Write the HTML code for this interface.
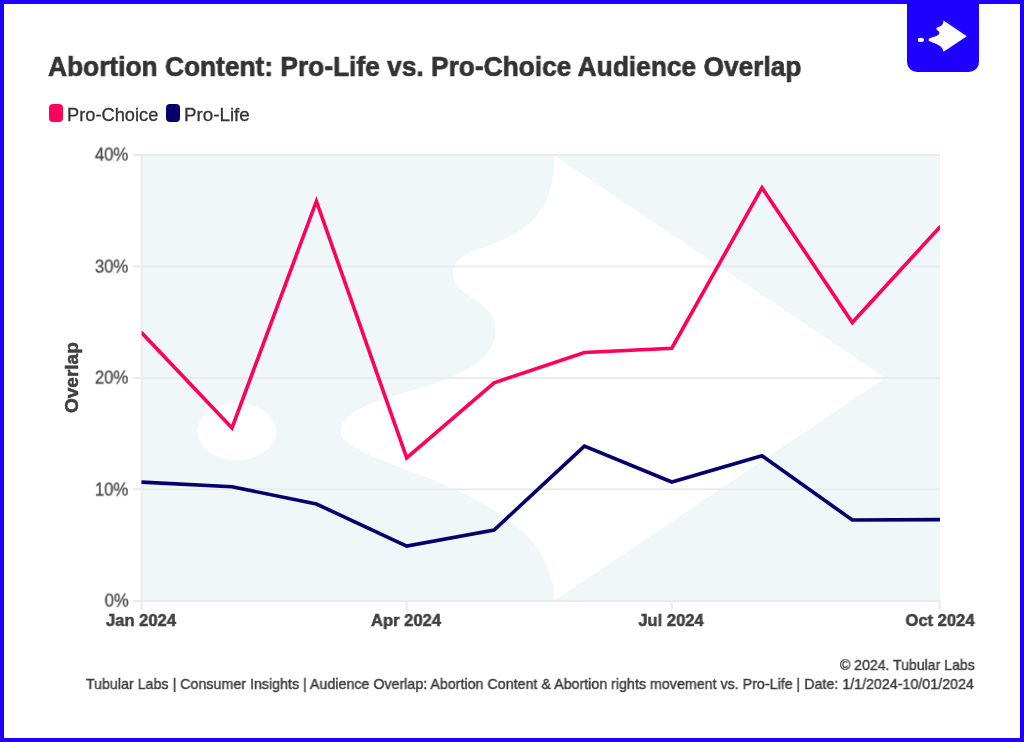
<!DOCTYPE html>
<html><head><meta charset="utf-8">
<style>
html,body{margin:0;padding:0;}
body{width:1024px;height:742px;position:relative;overflow:hidden;background:#fff;font-family:"Liberation Sans",sans-serif;}
#frame{position:absolute;left:0;top:0;width:1016px;height:734px;border:4px solid #1e00ff;}
.t{position:absolute;white-space:nowrap;line-height:1;transform-origin:0 0;will-change:transform;}
#title{font-size:28px;font-weight:bold;color:#333;-webkit-text-stroke:0.7px #333;}
.leg{position:absolute;width:14.2px;height:18px;border-radius:4px;}
.legt{font-size:18.1px;color:#333;-webkit-text-stroke:0.3px #333;}
.yl{font-size:17.2px;color:#484848;-webkit-text-stroke:0.3px #484848;}
.r{text-align:right;transform-origin:100% 50%;transform:scale(0.975,1.04);}
.c{transform-origin:50% 0;transform:translateX(-50%) scaleX(0.958);}
.rr{transform-origin:100% 0;transform:scaleX(0.9);}
.xl{font-size:17.3px;font-weight:bold;color:#404040;-webkit-text-stroke:0.55px #404040;}
.ft{font-size:14.6px;color:#3a3a3a;-webkit-text-stroke:0.4px #3a3a3a;}
#logo{position:absolute;left:907px;top:0;width:72px;height:72px;background:#1e00ff;border-radius:0 0 10px 10px;}
</style></head>
<body>
<div id="frame"></div>
<div id="logo">
<svg width="72" height="72" viewBox="907 0 72 72" style="position:absolute;left:0;top:0">
<g fill="#fff" transform="translate(966.8 36.2) scale(0.0703) translate(-885.5 -378)">
<use href="#wm"/>
</g>
<ellipse fill="#fff" cx="920.9" cy="39.9" rx="3" ry="2.1"/>
</svg>
</div>

<svg width="1024" height="742" style="position:absolute;left:0;top:0">
<defs>
<clipPath id="pc"><rect x="141.5" y="154" width="798.5" height="447"/></clipPath>
<path id="wm" d="M554.5 155.5 L885.5 378 L554.5 600.5 C554.5 485.5 340.8 467.2 340.8 431.7 C340.8 388.1 495.5 394.2 495.5 330.6 C495.5 296 452.9 300.4 452.9 272.5 C452.9 234.7 554.5 261 554.5 155.5 Z"/>
</defs>
<rect x="142" y="155" width="798" height="446" fill="#f0f7f9"/>
<g clip-path="url(#pc)" fill="#fff">
<use href="#wm"/>
<ellipse cx="236.7" cy="431.6" rx="39.4" ry="28.5"/>
</g>
<!-- grid -->
<g stroke="#ebebeb" stroke-width="2">
<line x1="133" y1="155" x2="940" y2="155"/>
<line x1="133" y1="266.5" x2="940" y2="266.5"/>
<line x1="133" y1="378" x2="940" y2="378"/>
<line x1="133" y1="489.3" x2="940" y2="489.3"/>
<line x1="133" y1="601" x2="940" y2="601"/>
<line x1="141.7" y1="155" x2="141.7" y2="610"/>
<line x1="406.7" y1="601" x2="406.7" y2="610"/>
<line x1="671.8" y1="601" x2="671.8" y2="610"/>
<line x1="939.7" y1="601" x2="939.7" y2="610"/>
</g>
<g clip-path="url(#pc)" fill="none" stroke-width="3.6" stroke-linejoin="miter" stroke-linecap="round" stroke-miterlimit="10">
<polyline stroke="#ff005c" points="141.7,332.8 232.0,428 316.4,201.2 406.7,457.8 494.1,382.8 584.4,352.5 671.8,348.2 762.0,187.7 852.3,322.5 939.7,227.2"/>
<polyline stroke="#05006b" points="141.7,482.1 232.0,486.8 316.4,504 406.7,546.1 494.1,530 584.4,446.2 671.8,482 762.0,455.8 852.3,520 939.7,519.6"/>
</g>
</svg>

<div id="title" class="t" style="left:48.2px;top:52.7px;transform:scaleX(0.9398)">Abortion Content: Pro-Life vs. Pro-Choice Audience Overlap</div>
<div class="leg" style="left:48.9px;top:104.4px;background:#ff005c"></div>
<div id="lt1" class="t legt" style="left:66.77px;top:105.65px;transform:scaleX(1.0094)">Pro-Choice</div>
<div class="leg" style="left:166.2px;top:104.4px;background:#05006b"></div>
<div id="lt2" class="t legt" style="left:184.4px;top:105.5px;transform:scaleX(1.038)">Pro-Life</div>

<div id="y40" class="t yl r" style="right:895.6px;top:146.2px">40%</div>
<div id="y30" class="t yl r" style="right:895.6px;top:257.7px">30%</div>
<div id="y20" class="t yl r" style="right:895.6px;top:369.2px">20%</div>
<div id="y10" class="t yl r" style="right:895.6px;top:480.5px">10%</div>
<div id="y0" class="t yl r" style="right:895.6px;top:592.2px">0%</div>

<div id="ovl" class="t" style="left:62.4px;top:413.3px;font-size:19px;font-weight:bold;color:#404040;-webkit-text-stroke:0.55px #404040;transform:rotate(-90deg)">Overlap</div>

<div id="x1" class="t xl c" style="left:141.25px;top:612.2px">Jan 2024</div>
<div id="x2" class="t xl c" style="left:405.95px;top:612.2px">Apr 2024</div>
<div id="x3" class="t xl c" style="left:671.1px;top:612.2px">Jul 2024</div>
<div id="x4" class="t xl c" style="left:939.8px;top:612.2px">Oct 2024</div>

<div id="f1" class="t ft rr" style="right:49.2px;top:657.5px;transform:scaleX(0.9647)">© 2024. Tubular Labs</div>
<div id="f2" class="t ft rr" style="right:50px;top:677.2px;transform:scaleX(0.977)">Tubular Labs | Consumer Insights | Audience Overlap: Abortion Content &amp; Abortion rights movement vs. Pro-Life | Date: 1/1/2024-10/01/2024</div>
</body></html>
